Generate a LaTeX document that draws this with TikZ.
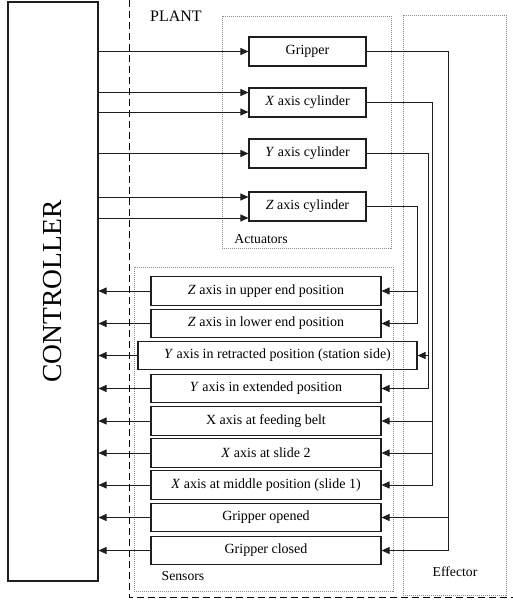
\documentclass[tikz,border=0pt]{standalone}
\usepackage{fontspec}
\setmainfont{Liberation Serif}
\usepackage{tikz}
\usetikzlibrary{positioning,calc,arrows.meta}
\definecolor{plantgray}{RGB}{140,140,140}
\definecolor{wireblack}{RGB}{30,30,30}
\newcommand{\boxfont}{\fontsize{14}{16}\selectfont}

\begin{document}
\begin{tikzpicture}[x=1pt, y=-1pt,
  actor/.style={draw=wireblack, line width=1.1pt, minimum width=117pt, minimum height=29pt, inner sep=0pt, font=\boxfont},
  sensor/.style={draw=wireblack, line width=1.1pt, minimum width=230pt, minimum height=28.5pt, inner sep=0pt, font=\boxfont},
  group/.style={draw=plantgray, line width=0.6pt, dash pattern=on 1pt off 1pt},
  grouplabel/.style={inner sep=0pt, font=\fontsize{13.7}{15}\selectfont},
  arrow/.style={-{Triangle[length=8pt,width=7pt]}, line width=0.9pt, wireblack}
]
  \useasboundingbox (0,0) rectangle (513,600);

  % controller and plant border
  \node[draw=wireblack, line width=1.1pt, minimum width=90pt, minimum height=579pt, inner sep=0pt] (ctrl) at (53,291.5) {};
  \node[rotate=90, font=\fontsize{27.5}{30}\selectfont] (ctrltext) at (ctrl.center) {CONTROLLER};
  \draw[line width=0.9pt, dash pattern=on 7pt off 4pt] (129,0) -- (129,597) -- (513,597);
  \node[inner sep=0pt, font=\fontsize{16}{18}\selectfont] (plant) at (176,16) {PLANT};

  % groups
  \draw[group] (222,16) rectangle (391,248);
  \draw[group] (134,267) rectangle (393,591);
  \draw[group] (403,15) rectangle (506,595);
  \node[grouplabel] (actlabel) at (261,239) {Actuators};
  \node[grouplabel] (senlabel) at (183,576) {Sensors};
  \node[grouplabel] (efflabel) at (455,572) {Effector};

  % actuators
  \node[actor] (grip) at (307.5,51.5) {Gripper};
  \node[actor] (xcyl) at (307.5,102.5) {\textit{X} axis cylinder};
  \node[actor] (ycyl) at (307.5,153.5) {\textit{Y} axis cylinder};
  \node[actor] (zcyl) at (307.5,206.5) {\textit{Z} axis cylinder};

  % sensors
  \node[sensor] (zup) at (266,291) {\textit{Z} axis in upper end position};
  \node[sensor] (zlow) at (266,323.5) {\textit{Z} axis in lower end position};
  \node[sensor, minimum width=279pt] (yret) at (277.5,355.5) {\textit{Y} axis in retracted position (station side)};
  \node[sensor] (yext) at (266,388.5) {\textit{Y} axis in extended position};
  \node[sensor] (xfeed) at (266,421) {X axis at feeding belt};
  \node[sensor] (xsl2) at (266,453) {\textit{X} axis at slide 2};
  \node[sensor] (xmid) at (266,485) {\textit{X} axis at middle position (slide 1)};
  \node[sensor] (gopen) at (266,517.5) {Gripper opened};
  \node[sensor] (gclose) at (266,550.5) {Gripper closed};

  % controller outputs
  \coordinate (xin1) at ([yshift=10pt]xcyl.west);
  \coordinate (xin2) at ([yshift=-9.5pt]xcyl.west);
  \coordinate (zin1) at ([yshift=9.5pt]zcyl.west);
  \coordinate (zin2) at ([yshift=-11.5pt]zcyl.west);
  \draw[arrow] (ctrl.east |- grip.west) -- (grip.west);
  \draw[arrow] (ctrl.east |- xin1) -- (xin1);
  \draw[arrow] (ctrl.east |- xin2) -- (xin2);
  \draw[arrow] (ctrl.east |- ycyl.west) -- (ycyl.west);
  \draw[arrow] (ctrl.east |- zin1) -- (zin1);
  \draw[arrow] (ctrl.east |- zin2) -- (zin2);

  % controller inputs
  \foreach \s in {zup,zlow,yret,yext,xfeed,xsl2,xmid,gopen,gclose}
    \draw[arrow] (\s.west) -- (ctrl.east |- \s.west);

  % effector wiring
  \coordinate (gbus) at (448.5,0);
  \coordinate (xbus) at (432,0);
  \coordinate (ybus) at (428,0);
  \coordinate (zbus) at (417,0);
  \draw[arrow] (grip.east) -| (gbus |- gclose.east) -- (gclose.east);
  \draw[arrow] (gbus |- gopen.east) -- (gopen.east);
  \draw[arrow] (xcyl.east) -| (xbus |- xmid.east) -- (xmid.east);
  \draw[arrow] (xbus |- xfeed.east) -- (xfeed.east);
  \draw[arrow] (xbus |- xsl2.east) -- (xsl2.east);
  \draw[arrow] (ycyl.east) -| (ybus |- yext.east) -- (yext.east);
  \draw[arrow] (ybus |- yret.east) -- (yret.east);
  \draw[arrow] (zcyl.east) -| (zbus |- zlow.east) -- (zlow.east);
  \draw[arrow] (zbus |- zup.east) -- (zup.east);
\end{tikzpicture}
\end{document}
